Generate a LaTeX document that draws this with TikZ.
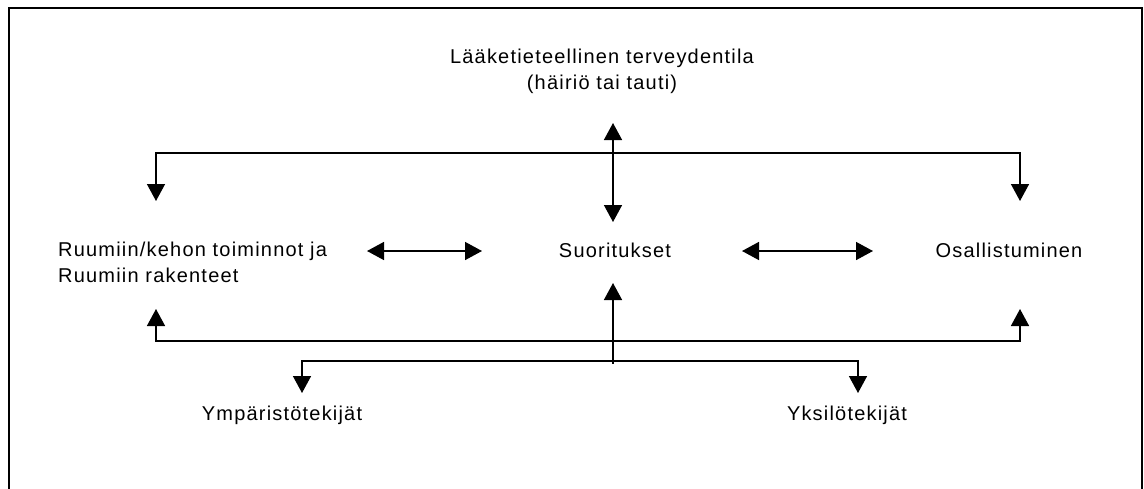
\documentclass[tikz,border=0pt]{standalone}
\usepackage{fontspec}
\setmainfont[LetterSpace=6]{Liberation Sans}
\usetikzlibrary{arrows.meta}
\tikzset{bigtri/.tip={Triangle[length=17pt,width=18pt]}}
\begin{document}
\begin{tikzpicture}[x=1pt,y=-1pt,
  lbl/.style={inner sep=0pt,font=\fontsize{20}{26}\selectfont},
  conn/.style={line width=1.5pt},
  frame/.style={line width=2.5pt}]
\useasboundingbox (0,0) rectangle (1144,488);
% frame
\draw[frame] (9,490) -- (9,8) -- (1142,8) -- (1142,490);
% text nodes
\node[lbl,anchor=north,align=center] (health) at (602,49) {Lääketieteellinen terveydentila\\(häiriö tai tauti)};
\node[lbl,anchor=north west,align=left] (body) at (58,242) {Ruumiin/kehon toiminnot ja\\Ruumiin rakenteet};
\node[lbl,anchor=base] (act) at (615,257) {Suoritukset};
\node[lbl,anchor=base] (part) at (1009,257) {Osallistuminen};
\node[lbl,anchor=base] (env) at (282,420) {Ympäristötekijät};
\node[lbl,anchor=base] (pers) at (847,420) {Yksilötekijät};
% connector end points
\coordinate (hTip) at (613,123);
\coordinate (aTop) at (613,222);
\coordinate (bTop) at (156,201);
\coordinate (pTop) at (1020,201);
\coordinate (tL) at (156,153);
\coordinate (tR) at (1020,153);
\coordinate (baL) at (367,251);
\coordinate (baR) at (482,251);
\coordinate (apL) at (742,251);
\coordinate (apR) at (873,251);
\coordinate (aBot) at (613,283);
\coordinate (ctrBot) at (613,364);
\coordinate (bBot) at (156,309);
\coordinate (pBot) at (1020,309);
\coordinate (mL) at (156,341);
\coordinate (mR) at (1020,341);
\coordinate (eTop) at (302,393);
\coordinate (iTop) at (858,393);
\coordinate (lL) at (302,361);
\coordinate (lR) at (858,361);
% connectors
\draw[conn,{bigtri}-{bigtri}] (hTip) -- (aTop);
\draw[conn,{bigtri}-{bigtri}] (bTop) -- (tL) -- (tR) -- (pTop);
\draw[conn,{bigtri}-{bigtri}] (baL) -- (baR);
\draw[conn,{bigtri}-{bigtri}] (apL) -- (apR);
\draw[conn,{bigtri}-] (aBot) -- (ctrBot);
\draw[conn,{bigtri}-{bigtri}] (bBot) -- (mL) -- (mR) -- (pBot);
\draw[conn,{bigtri}-{bigtri}] (eTop) -- (lL) -- (lR) -- (iTop);
\end{tikzpicture}
\end{document}
